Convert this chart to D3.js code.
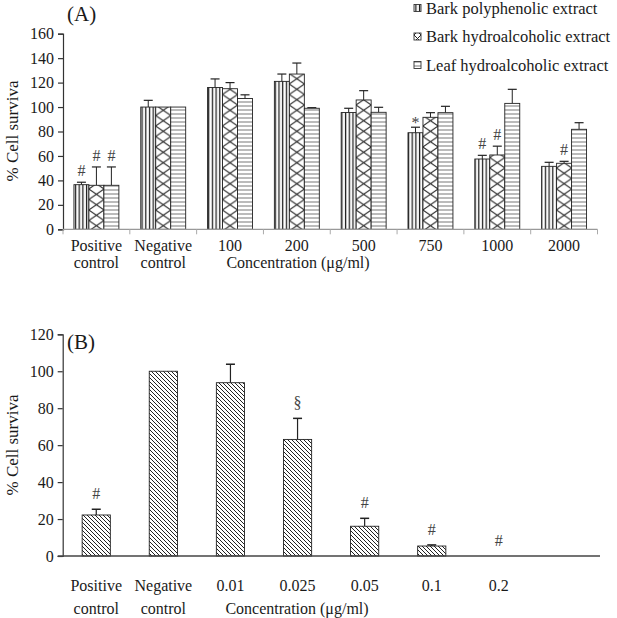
<!DOCTYPE html>
<html><head><meta charset="utf-8">
<script src="https://cdn.jsdelivr.net/npm/d3@7"></script>
<style>body{margin:0;background:#fff}svg{display:block}text{font-family:"Liberation Serif","Times New Roman",serif;fill:#1a1a1a}</style>
</head><body>
<script>
// ---- Panel A data ----
const catsA = ["Positive|control", "Negative|control", "100", "200", "500", "750", "1000", "2000"];
const seriesA = ["Bark polyphenolic extract", "Bark hydroalcoholic extract", "Leaf hydroalcoholic extract"];
const barkPoly = [36.5, 100, 116, 121, 95.5, 79, 57.5, 51.5];
const barkPolyErr = [38.5, 105.5, 123, 127, 99, 83.5, 60.5, 54.8];
const barkHydro = [36, 100, 115, 127, 105.8, 91.6, 60.8, 54];
const barkHydroErr = [51, 100, 120, 136, 113.4, 95.4, 68, 55.6];
const leafHydro = [36, 100, 107, 99, 95.7, 95.4, 103, 81.8];
const leafHydroErr = [51, 100, 110, 99.5, 99.8, 100.6, 114.5, 87.2];
const marksA = [["#","#","#"],["","",""],["","",""],["","",""],["","",""],["*","",""],["#","#",""],["","#",""]];
const ticksA = [0, 20, 40, 60, 80, 100, 120, 140, 160];

// ---- Panel B data ----
const catsB = ["Positive|control", "Negative|control", "0.01", "0.025", "0.05", "0.1", "0.2", ""];
const valuesB = [22.2, 100, 93.8, 63.1, 16.1, 5.4, 0, null];
const errB = [25.3, 100, 103.8, 74.5, 20.4, 6.0, 0, null];
const marksB = ["#", "", "", "§", "#", "#", "#", ""];
const ticksB = [0, 20, 40, 60, 80, 100, 120];

const W = 617, H = 618;
const svg = d3.select("body").append("svg").attr("width", W).attr("height", H);
const defs = svg.append("defs");

// patterns
const pV = defs.append("pattern").attr("id", "pV").attr("patternUnits", "userSpaceOnUse").attr("width", 3.7).attr("height", 10);
pV.append("rect").attr("width", 3.7).attr("height", 10).attr("fill", "#fff");
pV.append("line").attr("x1", 1.5).attr("x2", 1.5).attr("y1", 0).attr("y2", 10).attr("stroke", "#222").attr("stroke-width", 1.3);

const pH = defs.append("pattern").attr("id", "pH").attr("patternUnits", "userSpaceOnUse").attr("width", 10).attr("height", 4);
pH.append("rect").attr("width", 10).attr("height", 4).attr("fill", "#fff");
pH.append("line").attr("x1", 0).attr("x2", 10).attr("y1", 2).attr("y2", 2).attr("stroke", "#777").attr("stroke-width", 1);

const pD = defs.append("pattern").attr("id", "pD").attr("patternUnits", "userSpaceOnUse").attr("width", 4).attr("height", 4);
pD.append("rect").attr("width", 4).attr("height", 4).attr("fill", "#fff");
pD.append("path").attr("d", "M-1,-1 L5,5 M-1,3 L1,5 M3,-1 L5,1").attr("stroke", "#222").attr("stroke-width", 1);

function crossPattern(id, x0, w, h) {
  const p = defs.append("pattern").attr("id", id).attr("patternUnits", "userSpaceOnUse")
    .attr("x", x0).attr("width", w).attr("height", h);
  p.append("rect").attr("width", w).attr("height", h).attr("fill", "#fff");
  p.append("path").attr("d", `M0,0 L${w},${h} M${w},0 L0,${h}`).attr("stroke", "#222").attr("stroke-width", 1);
  return `url(#${id})`;
}

// ===== Panel A =====
const xA = d3.scaleBand().domain(catsA).range([63, 597.5]).paddingInner(0).paddingOuter(0);
const xSubA = d3.scaleBand().domain(seriesA).range([0, xA.bandwidth()]).paddingInner(0).paddingOuter(0.73);
const yA = d3.scaleLinear().domain([0, 160]).range([229.3, 33.7]);
const gA = svg.append("g");

const valsA = [barkPoly, barkHydro, leafHydro];
const errsA = [barkPolyErr, barkHydroErr, leafHydroErr];

catsA.forEach((c, ci) => {
  seriesA.forEach((s, si) => {
    const x = xA(c) + xSubA(s), w = xSubA.bandwidth();
    const v = valsA[si][ci], e = errsA[si][ci];
    let fill;
    if (si === 0) fill = "url(#pV)";
    else if (si === 1) fill = crossPattern("pX" + ci, x, w, 10.5);
    else fill = "url(#pH)";
    if (e > v + 0.3) {
      const cx = x + w / 2;
      gA.append("line").attr("x1", cx).attr("x2", cx).attr("y1", yA(v)).attr("y2", yA(e)).attr("stroke", "#222").attr("stroke-width", 1);
      gA.append("line").attr("x1", cx - 4.5).attr("x2", cx + 4.5).attr("y1", yA(e)).attr("y2", yA(e)).attr("stroke", "#222").attr("stroke-width", 1.2);
    }
    gA.append("rect").attr("x", x).attr("y", yA(v)).attr("width", w).attr("height", yA(0) - yA(v))
      .attr("fill", fill).attr("stroke", "#222").attr("stroke-width", 0.9);
    const m = marksA[ci][si];
    if (m) {
      gA.append("text").attr("x", x + w / 2).attr("y", yA(Math.max(e, v)) - (m === "*" ? -1 : 6))
        .attr("text-anchor", "middle").attr("font-size", 16).style("fill", "#444").text(m);
    }
  });
});

const axYA = d3.axisLeft(yA).tickValues(ticksA).tickSize(5).tickPadding(4);
const gyA = svg.append("g").attr("transform", "translate(63,0)").call(axYA);
gyA.select(".domain").attr("stroke", "#333").attr("stroke-width", 1.2);
gyA.selectAll(".tick line").attr("stroke", "#333").attr("stroke-width", 1.2);
gyA.selectAll("text").attr("font-size", 16).style("font-family", '"Liberation Serif",serif').style("fill", "#1a1a1a");

const bx = svg.append("g");
bx.append("line").attr("x1", 63).attr("x2", 597.5).attr("y1", yA(0)).attr("y2", yA(0)).attr("stroke", "#999").attr("stroke-width", 1.2);
catsA.concat(["end"]).forEach((c, i) => {
  const xx = i < catsA.length ? xA(c) : 597.5;
  bx.append("line").attr("x1", xx).attr("x2", xx).attr("y1", yA(0)).attr("y2", yA(0) + 5).attr("stroke", "#aaa").attr("stroke-width", 1);
});
catsA.forEach(c => {
  const parts = c.split("|");
  const cx = xA(c) + xA.bandwidth() / 2;
  bx.append("text").attr("x", cx).attr("y", 251).attr("text-anchor", "middle").attr("font-size", 16).text(parts[0]);
  if (parts[1]) bx.append("text").attr("x", cx).attr("y", 268).attr("text-anchor", "middle").attr("font-size", 16).text(parts[1]);
});
svg.append("text").attr("x", 298).attr("y", 268).attr("text-anchor", "middle").attr("font-size", 16).text("Concentration (μg/ml)");
svg.append("text").attr("transform", "translate(18,131) rotate(-90)").attr("text-anchor", "middle").attr("font-size", 17).text("% Cell surviva");
svg.append("text").attr("x", 67).attr("y", 21).attr("font-size", 21).text("(A)");

// legend
const legFills = ["url(#pV)", null, "url(#pH)"];
seriesA.forEach((s, i) => {
  const ly = 8 + i * 28.5;
  let f = legFills[i];
  if (i === 1) f = crossPattern("pXleg", 414, 7, 7);
  svg.append("rect").attr("x", 414).attr("y", ly - 3.5).attr("width", 7).attr("height", 7)
    .attr("fill", f).attr("stroke", "#333").attr("stroke-width", 0.9);
  svg.append("text").attr("x", 426).attr("y", ly + 5.5).attr("font-size", 16.5).text(s);
});

// ===== Panel B =====
const xB = d3.scaleBand().domain(catsB).range([62.7, 599.5]).paddingInner(0.58).paddingOuter(0.29);
const yB = d3.scaleLinear().domain([0, 120]).range([556, 334.3]);
const gB = svg.append("g");
catsB.forEach((c, i) => {
  const v = valuesB[i];
  if (v === null) return;
  const x = xB(c), w = xB.bandwidth(), e = errB[i];
  if (e > v + 0.3) {
    const cx = x + w / 2;
    gB.append("line").attr("x1", cx).attr("x2", cx).attr("y1", yB(v)).attr("y2", yB(e)).attr("stroke", "#222").attr("stroke-width", 1.2);
    gB.append("line").attr("x1", cx - 4.5).attr("x2", cx + 4.5).attr("y1", yB(e)).attr("y2", yB(e)).attr("stroke", "#222").attr("stroke-width", 1.5);
  }
  if (v > 0) gB.append("rect").attr("x", x).attr("y", yB(v)).attr("width", w).attr("height", yB(0) - yB(v))
    .attr("fill", "url(#pD)").attr("stroke", "#222").attr("stroke-width", 0.9);
  if (marksB[i]) gB.append("text").attr("x", x + w / 2).attr("y", yB(Math.max(e, v)) - 10)
    .attr("text-anchor", "middle").attr("font-size", 16).style("fill", "#444").text(marksB[i]);
});

const axYB = d3.axisLeft(yB).tickValues(ticksB).tickSize(5).tickPadding(4);
const gyB = svg.append("g").attr("transform", "translate(62.7,0)").call(axYB);
gyB.select(".domain").attr("stroke", "#333").attr("stroke-width", 1.2);
gyB.selectAll(".tick line").attr("stroke", "#333").attr("stroke-width", 1.2);
gyB.selectAll("text").attr("font-size", 16).style("font-family", '"Liberation Serif",serif').style("fill", "#1a1a1a");
svg.append("line").attr("x1", 57.7).attr("x2", 600).attr("y1", yB(0)).attr("y2", yB(0)).attr("stroke", "#444").attr("stroke-width", 1.5);

catsB.forEach(c => {
  if (!c) return;
  const parts = c.split("|");
  const cx = xB(c) + xB.bandwidth() / 2;
  svg.append("text").attr("x", cx).attr("y", 591).attr("text-anchor", "middle").attr("font-size", 16).text(parts[0]);
  if (parts[1]) svg.append("text").attr("x", cx).attr("y", 614).attr("text-anchor", "middle").attr("font-size", 16).text(parts[1]);
});
svg.append("text").attr("x", 297).attr("y", 614).attr("text-anchor", "middle").attr("font-size", 16).text("Concentration (μg/ml)");
svg.append("text").attr("transform", "translate(18,445) rotate(-90)").attr("text-anchor", "middle").attr("font-size", 17).text("% Cell surviva");
svg.append("text").attr("x", 67).attr("y", 349).attr("font-size", 21).text("(B)");
</script>
</body></html>
